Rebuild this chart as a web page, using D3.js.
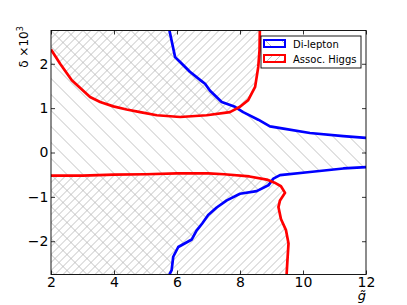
<!DOCTYPE html>
<html>
<head>
<meta charset="utf-8">
<script src="https://cdn.jsdelivr.net/npm/d3@7"></script>
<style>
  body { margin: 0; background: #fff; }
  text { font-family: "DejaVu Sans", sans-serif; }
</style>
</head>
<body>
<svg id="chart" width="407" height="305"></svg>
<script>
// Di-lepton exclusion boundary (upper and lower branches), delta in units of 1e-3
const dileptonUpper = [
  [5.76, 2.75], [5.94, 2.15], [6.10, 2.04], [6.41, 1.82], [6.78, 1.61], [6.89, 1.55],
  [7.05, 1.39], [7.42, 1.14], [7.84, 1.03], [8.10, 0.91], [8.58, 0.74], [8.95, 0.59],
  [9.38, 0.54], [10.22, 0.44], [11.28, 0.37], [12, 0.33]
];
const dileptonLower = [
  [12, -0.33], [11.28, -0.36], [10.22, -0.44], [9.27, -0.51], [9.06, -0.59], [8.90, -0.74],
  [8.53, -0.87], [8.0, -0.93], [7.58, -1.08], [7.26, -1.24], [6.99, -1.41], [6.80, -1.60],
  [6.62, -1.76], [6.47, -1.96], [6.04, -2.13], [5.88, -2.35], [5.83, -2.65], [5.76, -2.75]
];
// Associated Higgs exclusion boundary
const higgsUpper = [
  [2, 2.32], [2.29, 2.0], [2.66, 1.63], [2.92, 1.46], [3.24, 1.25], [3.56, 1.14],
  [3.98, 1.04], [4.40, 0.97], [4.83, 0.91], [5.36, 0.84], [6.10, 0.80], [6.94, 0.84],
  [7.68, 0.91], [8.0, 1.03], [8.26, 1.18], [8.48, 1.48], [8.58, 1.93], [8.62, 2.30], [8.63, 2.75]
];
const higgsLower = [
  [2, -0.52], [3, -0.52], [4, -0.50], [5, -0.49], [6, -0.47], [7, -0.47], [7.5, -0.49],
  [8.3, -0.54], [8.85, -0.61], [9.1, -0.68], [9.3, -0.76], [9.43, -0.91], [9.27, -1.08],
  [9.22, -1.23], [9.30, -1.50], [9.46, -1.75], [9.54, -2.05], [9.50, -2.50], [9.48, -2.75]
];
const xTicks = [2, 4, 6, 8, 10, 12];
const yTicks = [-2, -1, 0, 1, 2];
const xDomain = [2, 12];
const yDomain = [-2.75, 2.75];

const svg = d3.select('#chart');
const margin = { left: 51, right: 41, top: 30.5, bottom: 30.5 };
const width = 407 - margin.left - margin.right;
const height = 305 - margin.top - margin.bottom;

const x = d3.scaleLinear().domain(xDomain).range([0, width]);
const y = d3.scaleLinear().domain(yDomain).range([height, 0]);

const defs = svg.append('defs');
defs.append('clipPath').attr('id', 'plot-clip')
  .append('rect').attr('width', width).attr('height', height);

function addHatch(id, size, forward) {
  const p = defs.append('pattern').attr('id', id)
    .attr('patternUnits', 'userSpaceOnUse')
    .attr('width', size).attr('height', size);
  const segs = forward
    ? [[0, size, size, 0], [-1, 1, 1, -1], [size - 1, size + 1, size + 1, size - 1]]
    : [[0, 0, size, size], [-1, size - 1, 1, size + 1], [size - 1, -1, size + 1, 1]];
  segs.forEach((s) => {
    p.append('line').attr('x1', s[0]).attr('y1', s[1]).attr('x2', s[2]).attr('y2', s[3])
      .attr('stroke', '#b4b4b4').attr('stroke-width', 0.8);
  });
}
addHatch('hatch-back', 16, false);
addHatch('hatch-fwd', 8, true);

const g = svg.append('g').attr('transform', `translate(${margin.left},${margin.top})`);
const plot = g.append('g').attr('clip-path', 'url(#plot-clip)');

const line = d3.line().x((d) => x(d[0])).y((d) => y(d[1]));
const area = (pts) => line(pts) + 'Z';

// hatched regions
const dileptonRegion = dileptonUpper.concat(dileptonLower, [[2, -2.75], [2, 2.75]]);
const higgsUpperRegion = higgsUpper.concat([[2, 2.75]]);
const higgsLowerRegion = higgsLower.concat([[2, -2.75]]);

plot.append('path').attr('d', area(dileptonRegion)).attr('fill', 'url(#hatch-back)');
plot.append('path').attr('d', area(higgsUpperRegion)).attr('fill', 'url(#hatch-fwd)');
plot.append('path').attr('d', area(higgsLowerRegion)).attr('fill', 'url(#hatch-fwd)');

// boundaries
[[dileptonUpper, '#0000ff'], [dileptonLower, '#0000ff'], [higgsUpper, '#ff0000'], [higgsLower, '#ff0000']]
  .forEach(([pts, col]) => {
    plot.append('path').attr('d', line(pts)).attr('fill', 'none')
      .attr('stroke', col).attr('stroke-width', 2.7).attr('stroke-linejoin', 'round');
  });

// frame
g.append('rect').attr('width', width).attr('height', height)
  .attr('fill', 'none').attr('stroke', '#000').attr('stroke-width', 0.9);

// axes with inward ticks on all sides
const fmt = (d) => (d < 0 ? '\u2212' + Math.abs(d) : String(d));
const xAxis = g.append('g').attr('transform', `translate(0,${height})`)
  .call(d3.axisBottom(x).tickValues(xTicks).tickSizeInner(-4).tickSizeOuter(0).tickPadding(3).tickFormat(fmt));
const xTop = g.append('g')
  .call(d3.axisTop(x).tickValues(xTicks).tickSizeInner(-4).tickSizeOuter(0).tickFormat(''));
const yAxis = g.append('g')
  .call(d3.axisLeft(y).tickValues(yTicks).tickSizeInner(-4).tickSizeOuter(0).tickPadding(2.5).tickFormat(fmt));
const yRight = g.append('g').attr('transform', `translate(${width},0)`)
  .call(d3.axisRight(y).tickValues(yTicks).tickSizeInner(-4).tickSizeOuter(0).tickFormat(''));
[xAxis, xTop, yAxis, yRight].forEach((a) => {
  a.select('.domain').remove();
  a.selectAll('.tick line').attr('stroke', '#000').attr('stroke-width', 0.8);
  a.selectAll('text').attr('font-size', 14).attr('fill', '#000')
    .attr('font-family', '"DejaVu Sans", sans-serif');
});

// axis labels
svg.append('text').attr('transform', 'translate(27.5,47) rotate(-90)')
  .attr('text-anchor', 'middle').attr('font-size', 12)
  .html('δ ×10<tspan dy="-5" font-size="8">3</tspan>');
svg.append('text').attr('x', 362).attr('y', 300).attr('text-anchor', 'middle')
  .attr('font-size', 13).attr('font-style', 'italic').text('g\u0303');

// legend
const legendItems = [
  { label: 'Di-lepton', color: '#0000ff', hatch: 'url(#hatch-back)' },
  { label: 'Assoc. Higgs', color: '#ff0000', hatch: 'url(#hatch-fwd)' }
];
const lg = svg.append('g').attr('transform', 'translate(261,36)');
lg.append('rect').attr('x', 0).attr('y', 0).attr('width', 100).attr('height', 32)
  .attr('fill', '#fff').attr('stroke', '#000').attr('stroke-width', 0.9);
legendItems.forEach((d, i) => {
  const row = lg.append('g').attr('transform', `translate(0,${i * 15})`);
  row.append('rect').attr('x', 3).attr('y', 4).attr('width', 21).attr('height', 7)
    .attr('fill', '#fff');
  row.append('rect').attr('x', 3).attr('y', 4).attr('width', 21).attr('height', 7)
    .attr('fill', d.hatch).attr('stroke', d.color).attr('stroke-width', 2);
  row.append('text').attr('x', 32).attr('y', 11.5).attr('font-size', 10).text(d.label);
});
</script>
</body>
</html>
